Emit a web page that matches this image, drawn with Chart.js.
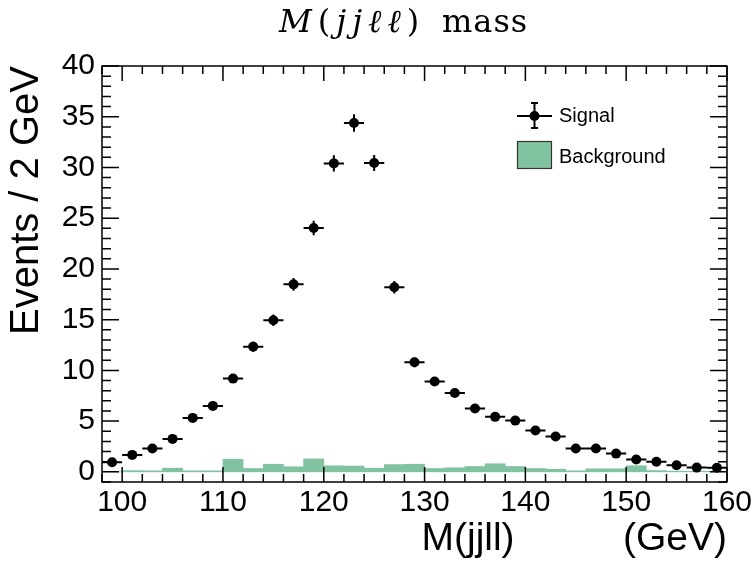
<!DOCTYPE html>
<html>
<head>
<meta charset="utf-8">
<script src="https://cdn.jsdelivr.net/npm/chart.js@4"></script>
<style>
html,body{margin:0;padding:0;background:#fff;}
#wrap{position:relative;width:755px;height:566px;}
.ttl{position:absolute;top:0;font-family:"DejaVu Serif",serif;font-size:32px;line-height:42px;white-space:nowrap;color:#000;}
#t1{left:279px;letter-spacing:6px;}
#t2{left:442px;letter-spacing:1px;}
</style>
</head>
<body>
<div id="wrap">
  <canvas id="chart" width="755" height="566"></canvas>
  <div class="ttl" id="t1"><i>M</i>(<i>jjℓℓ</i>)</div>
  <div class="ttl" id="t2">mass</div>
</div>
<script>
// bin centres, 2 GeV bins from 98 to 160
const binCenters = [99,101,103,105,107,109,111,113,115,117,119,121,123,125,127,129,131,133,135,137,139,141,143,145,147,149,151,153,155,157,159];
const signal = [0.95,1.67,2.3,3.25,5.32,6.5,9.19,12.34,14.94,18.48,24.04,30.4,34.38,30.44,18.19,10.8,8.9,7.78,6.24,5.42,5.05,4.07,3.48,2.3,2.3,1.8,1.21,0.99,0.65,0.42,0.4];
const signalErr = [0.14,0.19,0.22,0.26,0.34,0.37,0.44,0.51,0.56,0.63,0.72,0.8,0.86,0.8,0.62,0.48,0.44,0.41,0.36,0.34,0.33,0.29,0.27,0.22,0.22,0.2,0.16,0.15,0.12,0.09,0.09];
const background = [0,0.12,0.1,0.36,0.1,0.1,1.25,0.33,0.75,0.5,1.28,0.6,0.57,0.36,0.72,0.75,0.33,0.4,0.53,0.8,0.53,0.33,0.26,0.1,0.3,0.3,0.6,0.13,0.07,0.05,0.05];
const xTicks = [100,110,120,130,140,150,160];
const yTicks = [0,5,10,15,20,25,30,35,40];
const binHalf = 1;

const green = 'rgb(129,194,161)';
const font = 'Liberation Sans';

// frame, inward ticks (ROOT style), error bars and legend
const rootStyle = {
  id:'rootStyle',
  afterDatasetsDraw(chart){
    const {ctx, chartArea:a, scales:{x,y}} = chart;
    ctx.save();
    ctx.strokeStyle = '#000';
    ctx.lineWidth = 2;
    binCenters.forEach((c,i)=>{
      const px = x.getPixelForValue(c), py = y.getPixelForValue(signal[i]);
      ctx.beginPath();
      ctx.moveTo(x.getPixelForValue(c-binHalf),py); ctx.lineTo(x.getPixelForValue(c+binHalf),py);
      ctx.moveTo(px,y.getPixelForValue(signal[i]-signalErr[i])); ctx.lineTo(px,y.getPixelForValue(signal[i]+signalErr[i]));
      ctx.stroke();
    });
    ctx.lineWidth = 1.5;
    ctx.strokeRect(a.left,a.top,a.right-a.left,a.bottom-a.top);
    ctx.beginPath();
    for(let v=98; v<=160; v+=2){
      const px = x.getPixelForValue(v);
      const len = v%10===0 ? 15 : 8;
      ctx.moveTo(px,a.bottom); ctx.lineTo(px,a.bottom-len);
      ctx.moveTo(px,a.top); ctx.lineTo(px,a.top+len);
    }
    for(let v=-1; v<=40; v++){
      const py = y.getPixelForValue(v);
      const len = v%5===0 ? 17 : 9;
      ctx.moveTo(a.left,py); ctx.lineTo(a.left+len,py);
      ctx.moveTo(a.right,py); ctx.lineTo(a.right-len,py);
    }
    ctx.stroke();
    ctx.restore();
  },
  afterDraw(chart){
    const ctx = chart.ctx;
    ctx.save();
    // signal entry
    ctx.strokeStyle = '#000'; ctx.lineWidth = 2;
    ctx.beginPath();
    ctx.moveTo(517,116); ctx.lineTo(552,116);
    ctx.moveTo(534.5,103); ctx.lineTo(534.5,128);
    ctx.moveTo(531,103); ctx.lineTo(538,103);
    ctx.moveTo(531,128); ctx.lineTo(538,128);
    ctx.stroke();
    ctx.fillStyle = '#000';
    ctx.beginPath(); ctx.arc(534.5,116,5,0,Math.PI*2); ctx.fill();
    // background entry
    ctx.fillStyle = green;
    ctx.fillRect(517,141,35,28);
    ctx.strokeStyle = '#333'; ctx.lineWidth = 1.2;
    ctx.strokeRect(517.5,141.5,34,27);
    ctx.fillStyle = '#000';
    ctx.font = '20px "'+font+'"';
    ctx.textBaseline = 'middle';
    ctx.fillText('Signal',559,116);
    ctx.fillText('Background',559,157);
    ctx.restore();
  }
};

new Chart(document.getElementById('chart'),{
  type:'scatter',
  data:{
    datasets:[
      {type:'bar', label:'Background', order:2,
       data:binCenters.map((c,i)=>({x:c,y:background[i]})),
       backgroundColor:green, borderWidth:0,
       barPercentage:1, categoryPercentage:1, grouped:false},
      {type:'scatter', label:'Signal', order:1,
       data:binCenters.map((c,i)=>({x:c,y:signal[i]})),
       pointRadius:5, pointBackgroundColor:'#000', pointBorderWidth:0}
    ]
  },
  options:{
    responsive:false, animation:false,
    layout:{padding:{top:66,right:26,bottom:0,left:0}},
    plugins:{legend:{display:false}, tooltip:{enabled:false}, title:{display:false}},
    scales:{
      x:{type:'linear', min:98, max:160, offset:false,
         grid:{display:false, drawTicks:false, offset:false}, border:{display:false},
         afterBuildTicks:s=>{s.ticks = xTicks.map(v=>({value:v}));},
         afterFit:s=>{s.height = 84;},
         ticks:{color:'#000', padding:3, maxRotation:0, autoSkip:false, font:{family:font,size:30}},
         title:{display:true, text:'M(jjll)          (GeV)', align:'end', color:'#000',
                font:{family:font,size:39,lineHeight:1.2}, padding:{top:0,bottom:3}}},
      y:{type:'linear', min:-1, max:40,
         grid:{display:false, drawTicks:false}, border:{display:false},
         afterBuildTicks:s=>{s.ticks = yTicks.map(v=>({value:v}));},
         afterFit:s=>{s.width = 102;},
         ticks:{color:'#000', padding:7, font:{family:font,size:30}},
         title:{display:true, text:'Events / 2 GeV', align:'end', color:'#000',
                font:{family:font,size:40,lineHeight:1.2}, padding:{top:3,bottom:0}}}
    }
  },
  plugins:[rootStyle]
});
</script>
</body>
</html>
